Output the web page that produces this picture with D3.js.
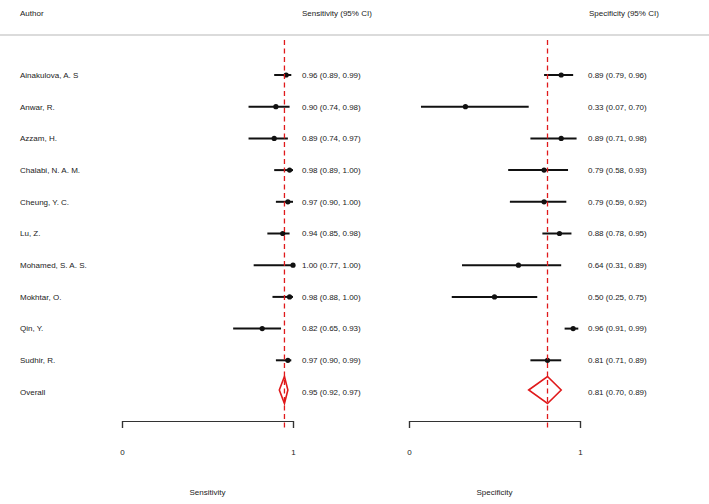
<!DOCTYPE html>
<html>
<head>
<meta charset="utf-8">
<script src="https://cdn.jsdelivr.net/npm/d3@7"></script>
<style>
  body { margin: 0; background: #fff; }
  text { font-family: "Liberation Sans", Arial, Helvetica, sans-serif; font-size: 8px; fill: #222; }
</style>
</head>
<body>
<div id="chart"></div>
<script>
// Study data
const authors = ['Ainakulova, A. S', 'Anwar, R.', 'Azzam, H.', 'Chalabi, N. A. M.', 'Cheung, Y. C.',
    'Lu, Z.', 'Mohamed, S. A. S.', 'Mokhtar, O.', 'Qin, Y.', 'Sudhir, R.'];
const sensEst = [0.96, 0.90, 0.89, 0.98, 0.97, 0.94, 1.00, 0.98, 0.82, 0.97];
const sensLo  = [0.89, 0.74, 0.74, 0.89, 0.90, 0.85, 0.77, 0.88, 0.65, 0.90];
const sensHi  = [0.99, 0.98, 0.97, 1.00, 1.00, 0.98, 1.00, 1.00, 0.93, 0.99];
const specEst = [0.89, 0.33, 0.89, 0.79, 0.79, 0.88, 0.64, 0.50, 0.96, 0.81];
const specLo  = [0.79, 0.07, 0.71, 0.58, 0.59, 0.78, 0.31, 0.25, 0.91, 0.71];
const specHi  = [0.96, 0.70, 0.98, 0.93, 0.92, 0.95, 0.89, 0.75, 0.99, 0.89];
const sensOverall = [0.95, 0.92, 0.97];
const specOverall = [0.81, 0.70, 0.89];
const axisTicks = [0, 1];

const W = 709, H = 504;
const svg = d3.select('#chart').append('svg').attr('width', W).attr('height', H);

const rows = authors.concat(['Overall']);
const y = d3.scalePoint().domain(d3.range(rows.length)).range([75, 392]);
const fmt = d3.format('.2f');

// header
svg.append('text').attr('x', 20).attr('y', 16).text('Author');
svg.append('text').attr('x', 302).attr('y', 16).text('Sensitivity (95% CI)');
svg.append('text').attr('x', 589).attr('y', 16).text('Specificity (95% CI)');
svg.append('line').attr('x1', 0).attr('x2', W).attr('y1', 35).attr('y2', 35)
    .attr('stroke', '#cfcfcf').attr('stroke-width', 1.5);

// author labels
svg.selectAll('.author').data(rows).enter().append('text')
    .attr('x', 20).attr('y', (d, i) => y(i)).attr('dy', '0.35em').text(d => d);

function panel(range, est, lo, hi, overall, textX, label) {
    const x = d3.scaleLinear().domain([0, 1]).range(range);
    const g = svg.append('g');
    const n = est.length;

    // axis
    g.append('g').attr('transform', 'translate(0,421)')
        .call(d3.axisBottom(x).tickValues(axisTicks).tickFormat(d3.format('d'))
            .tickSizeInner(7).tickSizeOuter(7).tickPadding(21))
        .call(a => a.selectAll('path, line').attr('stroke', '#333').attr('stroke-width', 1.2))
        .call(a => a.selectAll('text').style('font-size', '8px').attr('fill', '#222')
            .style('font-family', '"Liberation Sans", Arial, sans-serif'));

    // CI lines
    g.selectAll('.ci').data(est).enter().append('line')
        .attr('x1', (d, i) => x(lo[i])).attr('x2', (d, i) => x(hi[i]))
        .attr('y1', (d, i) => y(i)).attr('y2', (d, i) => y(i))
        .attr('stroke', '#111').attr('stroke-width', 2);
    g.selectAll('.pt').data(est).enter().append('circle')
        .attr('cx', d => x(d)).attr('cy', (d, i) => y(i)).attr('r', 2.6).attr('fill', '#111');

    // pooled diamond
    const yo = y(n) - 2;
    g.append('path')
        .attr('d', `M${x(overall[1])},${yo} L${x(overall[0])},${yo - 13.5} L${x(overall[2])},${yo} L${x(overall[0])},${yo + 13.5} Z`)
        .attr('fill', 'none').attr('stroke', '#e0191b').attr('stroke-width', 1.6);

    // reference line at pooled estimate
    g.append('line').attr('x1', x(overall[0])).attr('x2', x(overall[0]))
        .attr('y1', 40).attr('y2', 429)
        .attr('stroke', '#e0191b').attr('stroke-width', 1.3).attr('stroke-dasharray', '5,3.5');

    // estimate text
    const vals = est.map((d, i) => [d, lo[i], hi[i]]).concat([overall]);
    g.selectAll('.lab').data(vals).enter().append('text')
        .attr('x', textX).attr('y', (d, i) => y(i)).attr('dy', '0.35em')
        .text(d => `${fmt(d[0])} (${fmt(d[1])}, ${fmt(d[2])})`);

    g.append('text').attr('x', (range[0] + range[1]) / 2).attr('y', 495)
        .attr('text-anchor', 'middle').text(label);
}

panel([122, 293], sensEst, sensLo, sensHi, sensOverall, 302, 'Sensitivity');
panel([409, 580], specEst, specLo, specHi, specOverall, 588, 'Specificity');
</script>
</body>
</html>
